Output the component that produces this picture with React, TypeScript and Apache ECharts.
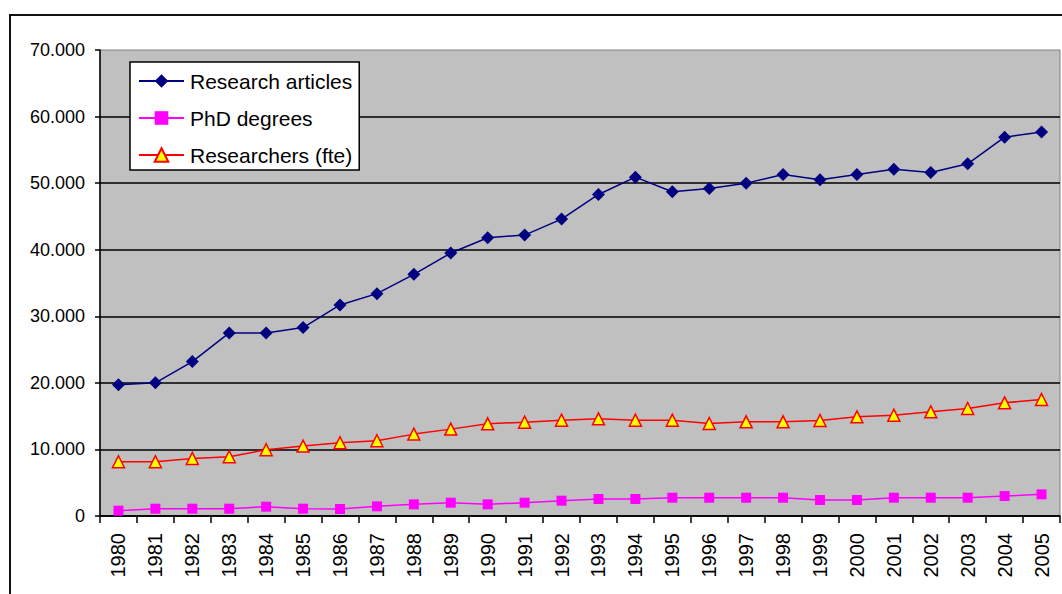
import React, { useEffect, useRef } from "react";
import * as echarts from "echarts";

const years = ["1980","1981","1982","1983","1984","1985","1986","1987","1988","1989","1990","1991","1992","1993","1994","1995","1996","1997","1998","1999","2000","2001","2002","2003","2004","2005"];
const researchArticles = [19700, 20000, 23200, 27500, 27500, 28300, 31700, 33400, 36300, 39500, 41800, 42200, 44600, 48300, 50900, 48700, 49200, 50000, 51300, 50500, 51300, 52100, 51600, 52900, 56900, 57700];
const phdDegrees = [800, 1100, 1100, 1100, 1400, 1100, 1050, 1450, 1750, 2000, 1750, 2000, 2300, 2550, 2550, 2750, 2750, 2750, 2750, 2400, 2400, 2750, 2750, 2750, 3000, 3250];
const researchers = [8150, 8150, 8650, 8900, 9950, 10500, 11000, 11300, 12300, 13050, 13850, 14100, 14400, 14600, 14400, 14400, 13900, 14150, 14150, 14350, 14900, 15150, 15650, 16150, 17000, 17500];
const seriesNames = ["Research articles", "PhD degrees", "Researchers (fte)"];

const FONT = "'Liberation Sans', Arial, sans-serif";

export default function App() {
  const ref = useRef<HTMLDivElement>(null);
  useEffect(() => {
    if (!ref.current) return;
    const chart = echarts.init(ref.current, null, { renderer: "svg" });
    chart.setOption({
      animation: false,
      backgroundColor: "#ffffff",
      textStyle: { fontFamily: FONT },
      graphic: [
        {
          type: "rect",
          shape: { x: 10, y: 15, width: 1200, height: 800 },
          style: { fill: "none", stroke: "#111", lineWidth: 2 },
          z: 0,
          silent: true,
        },
      ],
      grid: {
        left: 100,
        top: 50,
        right: 2,
        bottom: 78,
        show: true,
        backgroundColor: "#C0C0C0",
        borderColor: "#808080",
        borderWidth: 1,
        containLabel: false,
      },
      legend: {
        orient: "vertical",
        left: 130,
        top: 62,
        data: seriesNames,
        backgroundColor: "#ffffff",
        borderColor: "#000",
        borderWidth: 1.5,
        borderRadius: 0,
        padding: [7, 7, 3, 8],
        itemWidth: 45,
        itemHeight: 17,
        itemGap: 13,
        textStyle: { fontFamily: FONT, fontSize: 21, color: "#000", lineHeight: 24, padding: [0, 0, 0, 1] },
      },
      xAxis: {
        type: "category",
        data: years,
        boundaryGap: true,
        axisLine: { show: true, lineStyle: { color: "#000", width: 1.5 } },
        axisTick: { show: true, alignWithLabel: false, length: 7, inside: false, lineStyle: { color: "#000", width: 1.5 } },
        axisLabel: { rotate: 90, margin: 17, fontSize: 20, color: "#000", fontFamily: FONT, interval: 0 },
        splitLine: { show: false },
      },
      yAxis: {
        type: "value",
        min: 0,
        max: 70000,
        interval: 10000,
        axisLine: { show: true, lineStyle: { color: "#000", width: 1.5 } },
        axisTick: { show: true, length: 5, lineStyle: { color: "#000", width: 1.5 } },
        axisLabel: {
          margin: 15,
          fontSize: 18,
          color: "#000",
          fontFamily: FONT,
          formatter: (v: number) => (v === 0 ? "0" : `${v / 1000}.000`),
        },
        splitLine: { show: true, showMaxLine: false, lineStyle: { color: "#000", width: 1.5 } },
      },
      series: [
        {
          name: seriesNames[0],
          type: "line",
          data: researchArticles,
          symbol: "diamond",
          symbolSize: 13,
          lineStyle: { color: "#000080", width: 1.5 },
          itemStyle: { color: "#000080" },
          z: 3,
        },
        {
          name: seriesNames[1],
          type: "line",
          data: phdDegrees,
          symbol: "rect",
          symbolSize: 10,
          lineStyle: { color: "#FF00FF", width: 1.5 },
          itemStyle: { color: "#FF00FF" },
          z: 3,
        },
        {
          name: seriesNames[2],
          type: "line",
          data: researchers,
          symbol: "triangle",
          symbolSize: 12,
          lineStyle: { color: "#FF0000", width: 1.5 },
          itemStyle: { color: "#FFFF00", borderColor: "#FF0000", borderWidth: 1.5 },
          z: 3,
        },
      ],
    });
    return () => chart.dispose();
  }, []);
  return <div ref={ref} style={{ position: "fixed", left: 0, top: 0, width: 1062, height: 594 }} />;
}
